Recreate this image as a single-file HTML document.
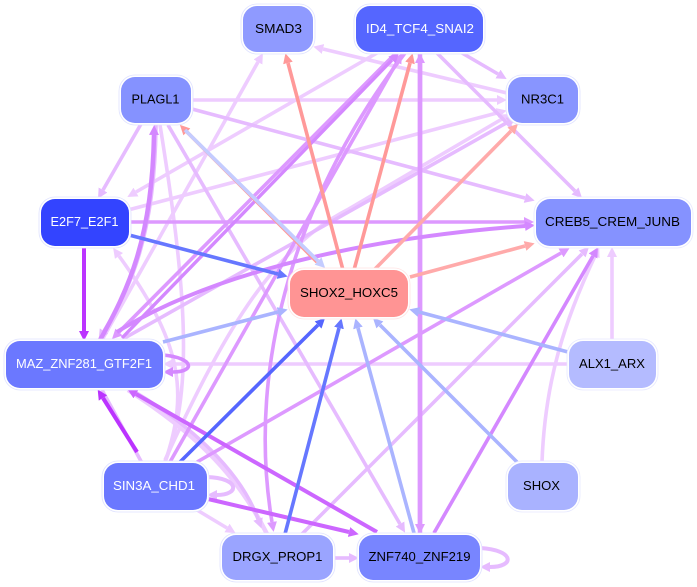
<!DOCTYPE html>
<html><head><meta charset="utf-8"><style>
html,body{margin:0;padding:0;background:#fff}
svg{display:block}
path{fill:none}
marker path{stroke:none}
text{font-family:"Liberation Sans",sans-serif;font-size:13px;text-anchor:middle}
.h{fill:#fff;stroke-width:.8}
</style></head><body>
<svg width="697" height="587" viewBox="0 0 697 587" xmlns="http://www.w3.org/2000/svg">
<defs>
<marker id="ma" markerUnits="userSpaceOnUse" markerWidth="10" markerHeight="10" viewBox="0 0 10 10" refX="0" refY="5" orient="auto"><path d="M0,0L10,5L0,10z" style="fill:#eeccff"/></marker>
<marker id="mb" markerUnits="userSpaceOnUse" markerWidth="10" markerHeight="10" viewBox="0 0 10 10" refX="0" refY="5" orient="auto"><path d="M0,0L10,5L0,10z" style="fill:#e6bbff"/></marker>
<marker id="mc" markerUnits="userSpaceOnUse" markerWidth="10" markerHeight="10" viewBox="0 0 10 10" refX="0" refY="5" orient="auto"><path d="M0,0L10,5L0,10z" style="fill:#dd99ff"/></marker>
<marker id="md" markerUnits="userSpaceOnUse" markerWidth="10" markerHeight="10" viewBox="0 0 10 10" refX="0" refY="5" orient="auto"><path d="M0,0L10,5L0,10z" style="fill:#d488ff"/></marker>
<marker id="me" markerUnits="userSpaceOnUse" markerWidth="10" markerHeight="10" viewBox="0 0 10 10" refX="0" refY="5" orient="auto"><path d="M0,0L10,5L0,10z" style="fill:#cc66ff"/></marker>
<marker id="mf" markerUnits="userSpaceOnUse" markerWidth="10" markerHeight="10" viewBox="0 0 10 10" refX="0" refY="5" orient="auto"><path d="M0,0L10,5L0,10z" style="fill:#bb33ff"/></marker>
<marker id="mr" markerUnits="userSpaceOnUse" markerWidth="10" markerHeight="10" viewBox="0 0 10 10" refX="0" refY="5" orient="auto"><path d="M0,0L10,5L0,10z" style="fill:#ff9999"/></marker>
<marker id="ms" markerUnits="userSpaceOnUse" markerWidth="10" markerHeight="10" viewBox="0 0 10 10" refX="0" refY="5" orient="auto"><path d="M0,0L10,5L0,10z" style="fill:#ffaaaa"/></marker>
<marker id="mu" markerUnits="userSpaceOnUse" markerWidth="10" markerHeight="10" viewBox="0 0 10 10" refX="0" refY="5" orient="auto"><path d="M0,0L10,5L0,10z" style="fill:#6677ff"/></marker>
<marker id="mv" markerUnits="userSpaceOnUse" markerWidth="10" markerHeight="10" viewBox="0 0 10 10" refX="0" refY="5" orient="auto"><path d="M0,0L10,5L0,10z" style="fill:#aab4ff"/></marker>
<marker id="mw" markerUnits="userSpaceOnUse" markerWidth="10" markerHeight="10" viewBox="0 0 10 10" refX="0" refY="5" orient="auto"><path d="M0,0L10,5L0,10z" style="fill:#c4ccff"/></marker>
<marker id="mx" markerUnits="userSpaceOnUse" markerWidth="10" markerHeight="10" viewBox="0 0 10 10" refX="0" refY="5" orient="auto"><path d="M0,0L10,5L0,10z" style="fill:#5566ff"/></marker>
</defs>

<g stroke="#eeccff" stroke-width="3.6" marker-end="url(#ma)">
<path d="M102,340L258,62"/>
<path d="M377,53L136,192"/>
<path d="M507,93L323,49"/>
<path d="M191,100L497,100"/>
<path d="M128,210L497,113"/>
<path d="M165,460C220,340 270,250 347,210L502,119"/>
<path d="M165,462C190,390 180,340 119,256"/>
<path d="M569,364L173,364"/>
<path d="M197,510L227,528"/>
<path d="M542,462C545,380 565,320 595,256"/>
<path d="M612,341L612,257"/>
<path d="M160,125C185,280 195,390 165,462" marker-end="none"/>
<path d="M128,390C190,430 235,470 267,534" stroke-width="4.5" marker-end="none"/>
</g>
<g stroke="#e6bbff" stroke-width="3.6" marker-end="url(#mb)">
<path d="M141,124L103,190"/>
<path d="M156,125C155,235 130,290 104,331"/>
<path d="M123,339L508,122"/>
<path d="M192,109L525,198"/>
<path d="M462,53L498,74"/>
<path d="M437,53L575,191"/>
<path d="M168,125L400,524"/>
<path d="M102,390L142,463" marker-end="none"/>
<path d="M135,392C190,425 240,470 258,519"/>
<path d="M207,477C240,478 240,495 217,495" stroke-width="4"/>
<path d="M302,534L582,254"/>
<path d="M480,548C515,550 515,567 490,567" stroke-width="4"/>
<path d="M333,558L349,558"/>
</g>
<g stroke="#dd99ff" stroke-width="3.6" marker-end="url(#mc)">
<path d="M396,53L119,332"/>
<path d="M129,222L524,222"/>
<path d="M170,462L397,62"/>
<path d="M197,462L561,253"/>
<path d="M405,53C300,190 245,360 272,522"/>
<path d="M420,534L420,63" stroke-width="4.5"/>
<path d="M420,53L420,524" stroke-width="4.5"/>
</g>
<g stroke="#d488ff" stroke-width="4" marker-end="url(#md)">
<path d="M100,340C128,290 152,240 154,135" stroke-width="4.5"/>
<path d="M122,338L392,60" stroke-width="3.4"/>
<path d="M163,355C195,358 195,372 173,372" stroke-width="3.6"/>
<path d="M434,533L593,256" stroke-width="3.6"/>
<path d="M117,332C200,280 340,240 525,226"/>
</g>
<g stroke="#cc66ff" stroke-width="4" marker-end="url(#me)">
<path d="M377,532L136,394"/>
<path d="M208,499L349,532"/>
</g>
<g stroke="#bb33ff" stroke-width="4" marker-end="url(#mf)">
<path d="M84,246L84,331"/>
<path d="M137,452L103,398"/>
</g>
<g stroke="#ff9999" stroke-width="3.6" marker-end="url(#mr)">
<path d="M343,270L288,63"/>
<path d="M354,270L410,63"/>
<path d="M317,262L187,132"/>
</g>
<g stroke="#ffaaaa" stroke-width="3.6" marker-end="url(#ms)">
<path d="M374,270L511,131"/>
<path d="M410,277L525,246"/>
</g>
<g stroke="#c4ccff" stroke-width="3.6" marker-end="url(#mw)">
<path d="M185,130L318,261"/>
</g>
<g stroke="#6677ff" stroke-width="3.6" marker-end="url(#mu)">
<path d="M129,235L278,274"/>
<path d="M285,534L339,328"/>
</g>
<g stroke="#5566ff" stroke-width="3.6" marker-end="url(#mx)">
<path d="M180,462L318,325"/>
</g>
<g stroke="#aab4ff" stroke-width="3.6" marker-end="url(#mv)">
<path d="M163,342L278,312"/>
<path d="M568,352L419,312"/>
<path d="M517,462L380,325"/>
<path d="M414,533L358,328"/>
</g>

<!-- nodes -->
<g>
<rect class="h" x="241" y="4" width="74" height="50" rx="16" stroke="#dfe2ff"/><rect x="243" y="6" width="70" height="46" rx="14" fill="#8f9aff"/>
<text x="278.500" y="33" textLength="47" lengthAdjust="spacingAndGlyphs" fill="#000">SMAD3</text>

<rect class="h" x="354" y="4" width="131" height="50" rx="16" stroke="#dfe2ff"/><rect x="356" y="6" width="127" height="46" rx="14" fill="#5566ff"/>
<text x="420" y="33" textLength="108" lengthAdjust="spacingAndGlyphs" fill="#fff">ID4_TCF4_SNAI2</text>

<rect class="h" x="119" y="75" width="74" height="50" rx="16" stroke="#dfe2ff"/><rect x="121" y="77" width="70" height="46" rx="14" fill="#8592ff"/>
<text x="155.500" y="103.500" textLength="48" lengthAdjust="spacingAndGlyphs" fill="#000">PLAGL1</text>

<rect class="h" x="506" y="75" width="74" height="50" rx="16" stroke="#dfe2ff"/><rect x="508" y="77" width="70" height="46" rx="14" fill="#8895ff"/>
<text x="542.500" y="103.500" textLength="43" lengthAdjust="spacingAndGlyphs" fill="#000">NR3C1</text>

<rect class="h" x="39" y="197" width="92" height="51" rx="16" stroke="#dfe2ff"/><rect x="41" y="199" width="88" height="47" rx="14" fill="#3344ff"/>
<text x="84.500" y="226" textLength="68" lengthAdjust="spacingAndGlyphs" fill="#fff">E2F7_E2F1</text>

<rect class="h" x="534" y="197" width="159" height="51" rx="16" stroke="#e6e8ff"/><rect x="536" y="199" width="155" height="47" rx="14" fill="#8592ff"/>
<text x="612.500" y="226" textLength="135" lengthAdjust="spacingAndGlyphs" fill="#000">CREB5_CREM_JUNB</text>

<rect class="h" x="288" y="268" width="122" height="51" rx="16" stroke="#ffe4e4"/><rect x="290" y="270" width="118" height="47" rx="14" fill="#ff9494"/>
<text x="349" y="297" textLength="98" lengthAdjust="spacingAndGlyphs" fill="#000">SHOX2_HOXC5</text>

<rect class="h" x="4" y="339" width="161" height="51" rx="16" stroke="#dfe2ff"/><rect x="6" y="341" width="157" height="47" rx="14" fill="#6b78ff"/>
<text x="84" y="368" textLength="136" lengthAdjust="spacingAndGlyphs" fill="#fff">MAZ_ZNF281_GTF2F1</text>

<rect class="h" x="567" y="339" width="91" height="51" rx="16" stroke="#e6e8ff"/><rect x="569" y="341" width="87" height="47" rx="14" fill="#b4bbff"/>
<text x="612" y="368" textLength="66" lengthAdjust="spacingAndGlyphs" fill="#000">ALX1_ARX</text>

<rect class="h" x="102" y="461" width="107" height="51" rx="16" stroke="#dfe2ff"/><rect x="104" y="463" width="103" height="47" rx="14" fill="#6b78ff"/>
<text x="154" y="490" textLength="82" lengthAdjust="spacingAndGlyphs" fill="#fff">SIN3A_CHD1</text>

<rect class="h" x="506" y="461" width="74" height="51" rx="16" stroke="#e6e8ff"/><rect x="508" y="463" width="70" height="47" rx="14" fill="#a9b2ff"/>
<text x="541.500" y="490" textLength="37" lengthAdjust="spacingAndGlyphs" fill="#000">SHOX</text>

<rect class="h" x="220" y="533" width="115" height="49" rx="16" stroke="#dfe2ff"/><rect x="222" y="535" width="111" height="45" rx="14" fill="#9aa4ff"/>
<text x="277.500" y="561" textLength="90" lengthAdjust="spacingAndGlyphs" fill="#000">DRGX_PROP1</text>

<rect class="h" x="357" y="533" width="125" height="49" rx="16" stroke="#dfe2ff"/><rect x="359" y="535" width="121" height="45" rx="14" fill="#7885ff"/>
<text x="419.500" y="561" textLength="102" lengthAdjust="spacingAndGlyphs" fill="#000">ZNF740_ZNF219</text>
</g>
</svg>
</body></html>
